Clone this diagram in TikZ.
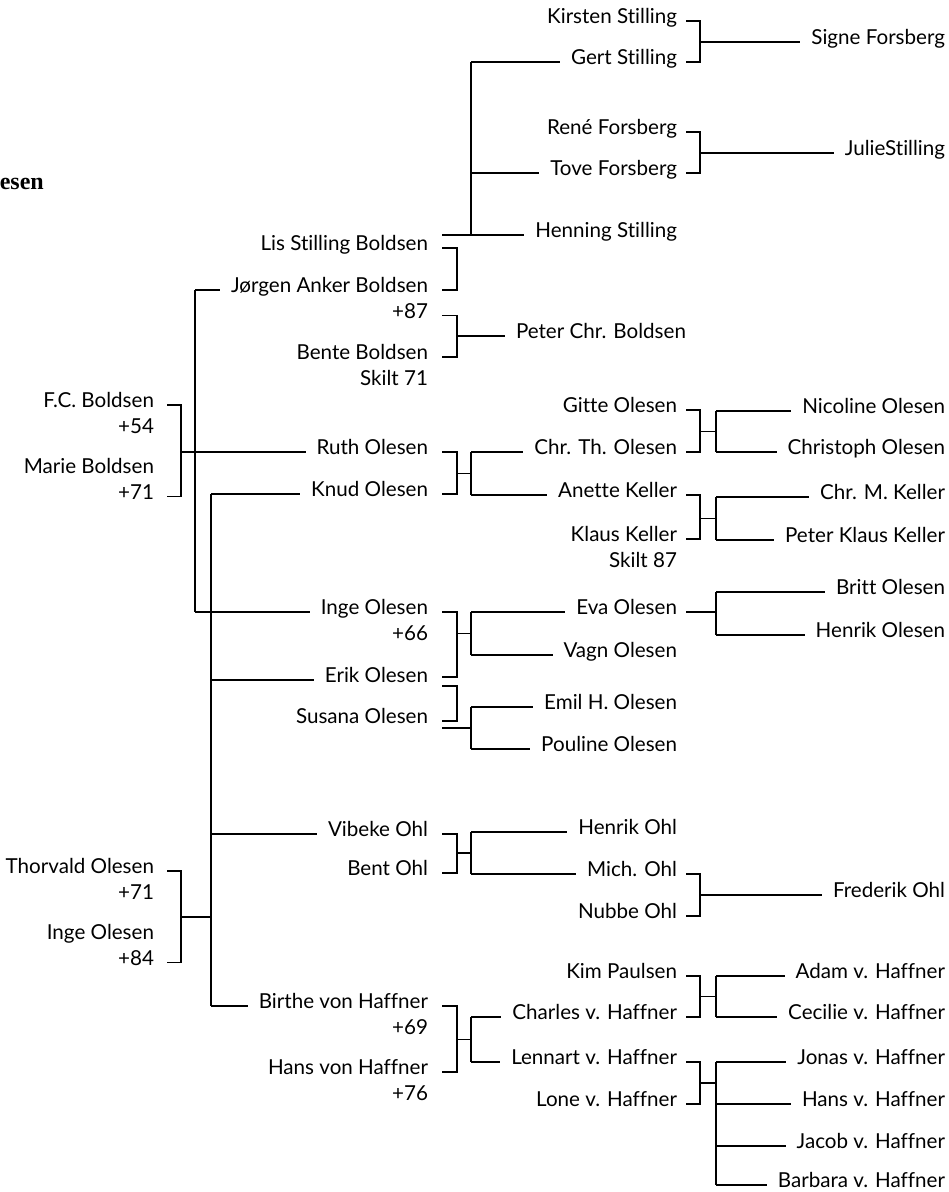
\documentclass[tikz,border=0pt]{standalone}
\usepackage{fontspec}
\setmainfont{Lato}[Ligatures=NoCommon]
\newfontfamily\headfont{Liberation Serif}
\usetikzlibrary{positioning, calc}

\begin{document}
\begin{tikzpicture}[x=1pt, y=-1pt, line cap=butt, line join=miter]

	%======================
	% COLUMNS (edit here)
	%======================
	\coordinate (g1s)  at (167,0);  % stub start, generation 1
	\coordinate (g1b)  at (181,0);  % bracket, generation 1
	\coordinate (bus1) at (195,0);  % Boldsen children
	\coordinate (bus2) at (211,0);  % Olesen children
	\coordinate (g2s)  at (442,0);
	\coordinate (g2b)  at (457,0);
	\coordinate (g2k)  at (471,0);
	\coordinate (g3s)  at (686,0);
	\coordinate (g3b)  at (700,0);
	\coordinate (g3k)  at (716,0);

	% Styles
	\tikzset{
		pers/.style={anchor=mid east, inner sep=0pt, outer sep=0pt, font=\fontsize{20.6}{25}\selectfont},
		info/.style={pers, below=25.5pt of #1.mid east, anchor=mid east},
		kin/.style={line width=1.5pt},
		kinto/.style={kin, shorten >=11pt}
	}

	\useasboundingbox (0,0) rectangle (949,1192);

	\node[font=\headfont\bfseries\fontsize{24}{28}\selectfont, anchor=base east, inner sep=0pt] (title) at (44,189) {esen};

	%======================
	% GENERATION 1
	%======================
	\node[pers] (fcb) at (154,405) {F.C. Boldsen};
	\node[info=fcb] (fcbd) {+54};
	\node[pers] (marie) at (154,471) {Marie Boldsen};
	\node[info=marie] (maried) {+71};

	\node[pers] (thorvald) at (154,871) {Thorvald Olesen};
	\node[info=thorvald] (thorvaldd) {+71};
	\node[pers] (ingeo) at (154,937) {Inge Olesen};
	\node[info=ingeo] (ingeod) {+84};

	%======================
	% GENERATION 2
	%======================
	\node[pers] (lis) at (428,248) {Lis Stilling Boldsen};
	\node[pers] (jorgen) at (428,290) {Jørgen Anker Boldsen};
	\node[info=jorgen] (jorgend) {+87};
	\node[pers] (bente) at (428,357) {Bente Boldsen};
	\node[info=bente] (bented) {Skilt 71};
	\node[pers] (ruth) at (428,452) {Ruth Olesen};
	\node[pers] (knud) at (428,494) {Knud Olesen};
	\node[pers] (inge) at (428,612) {Inge Olesen};
	\node[info=inge] (inged) {+66};
	\node[pers] (erik) at (428,680) {Erik Olesen};
	\node[pers] (susana) at (428,721) {Susana Olesen};
	\node[pers] (vibeke) at (428,834) {Vibeke Ohl};
	\node[pers] (bent) at (428,873) {Bent Ohl};
	\node[pers] (birthe) at (428,1006) {Birthe von Haffner};
	\node[info=birthe] (birthed) {+69};
	\node[pers] (hans) at (428,1072) {Hans von Haffner};
	\node[info=hans] (hansd) {+76};

	%======================
	% GENERATION 3
	%======================
	\node[pers] (kirsten) at (677,21) {Kirsten Stilling};
	\node[pers] (gert) at (677,62) {Gert Stilling};
	\node[pers] (rene) at (677,132) {René Forsberg};
	\node[pers] (tove) at (677,173) {Tove Forsberg};
	\node[pers] (henning) at (677,235) {Henning Stilling};
	\node[pers, anchor=mid west] (peter) at (516,336) {Peter Chr. Boldsen};
	\node[pers] (gitte) at (677,410) {Gitte Olesen};
	\node[pers] (chrth) at (677,452) {Chr. Th. Olesen};
	\node[pers] (anette) at (677,495) {Anette Keller};
	\node[pers] (klaus) at (677,539) {Klaus Keller};
	\node[info=klaus] (klausd) {Skilt 87};
	\node[pers] (eva) at (677,612) {Eva Olesen};
	\node[pers] (vagn) at (677,655) {Vagn Olesen};
	\node[pers] (emil) at (677,707) {Emil H. Olesen};
	\node[pers] (pouline) at (677,749) {Pouline Olesen};
	\node[pers] (henrikohl) at (677,832) {Henrik Ohl};
	\node[pers] (mich) at (677,874) {Mich. Ohl};
	\node[pers] (nubbe) at (677,916) {Nubbe Ohl};
	\node[pers] (kim) at (677,976) {Kim Paulsen};
	\node[pers] (charles) at (677,1017) {Charles v. Haffner};
	\node[pers] (lennart) at (677,1062) {Lennart v. Haffner};
	\node[pers] (lone) at (677,1104) {Lone v. Haffner};

	%======================
	% GENERATION 4
	%======================
	\node[pers] (signe) at (945,42) {Signe Forsberg};
	\node[pers] (julie) at (945,153) {JulieStilling};
	\node[pers] (nicoline) at (945,411) {Nicoline Olesen};
	\node[pers] (christoph) at (945,452) {Christoph Olesen};
	\node[pers] (chrm) at (945,497) {Chr. M. Keller};
	\node[pers] (peterk) at (945,540) {Peter Klaus Keller};
	\node[pers] (britt) at (945,592) {Britt Olesen};
	\node[pers] (henrikol) at (945,635) {Henrik Olesen};
	\node[pers] (frederik) at (945,895) {Frederik Ohl};
	\node[pers] (adam) at (945,976) {Adam v. Haffner};
	\node[pers] (cecilie) at (945,1017) {Cecilie v. Haffner};
	\node[pers] (jonas) at (945,1062) {Jonas v. Haffner};
	\node[pers] (hansv) at (945,1104) {Hans v. Haffner};
	\node[pers] (jacob) at (945,1146) {Jacob v. Haffner};
	\node[pers] (barbara) at (945,1185) {Barbara v. Haffner};

	%======================
	% BOLDSEN FAMILY
	%======================
	\draw[kin] (fcb.mid east -| g1s) -- (fcb.mid east -| g1b) -- (maried.mid east -| g1b) -- (maried.mid east -| g1s);
	\draw[kinto] (ruth.mid west -| g1b) -- (ruth.mid west);
	\draw[kin] (jorgen.mid west -| bus1) -- (inge.mid west -| bus1);
	\draw[kinto] (jorgen.mid west -| bus1) -- (jorgen.mid west);
	\draw[kinto] (inge.mid west -| bus1) -- (inge.mid west);

	% Lis + Jørgen, children Stilling (line starts above Lis)
	\draw[kin] (lis.mid east -| g2s) -- (lis.mid east -| g2b) -- (jorgen.mid east -| g2b) -- (jorgen.mid east -| g2s);
	\draw[kinto] (henning.mid west -| g2s) -- (henning.mid west);
	\draw[kin] (henning.mid west -| g2k) -- (gert.mid west -| g2k);
	\draw[kinto] (gert.mid west -| g2k) -- (gert.mid west);
	\draw[kinto] (tove.mid west -| g2k) -- (tove.mid west);

	% Jørgen + Bente
	\draw[kin] (jorgend.mid east -| g2s) -- (jorgend.mid east -| g2b) -- (bente.mid east -| g2b) -- (bente.mid east -| g2s);
	\draw[kinto] (peter.mid west -| g2b) -- (peter.mid west);

	% Kirsten + Gert, René + Tove
	\draw[kin] (kirsten.mid east -| g3s) -- (kirsten.mid east -| g3b) -- (gert.mid east -| g3b) -- (gert.mid east -| g3s);
	\draw[kinto] (signe.mid west -| g3b) -- (signe.mid west);
	\draw[kin] (rene.mid east -| g3s) -- (rene.mid east -| g3b) -- (tove.mid east -| g3b) -- (tove.mid east -| g3s);
	\draw[kinto] (julie.mid west -| g3b) -- (julie.mid west);

	%======================
	% OLESEN FAMILY
	%======================
	\draw[kin] (thorvald.mid east -| g1s) -- (thorvald.mid east -| g1b) -- (ingeod.mid east -| g1b) -- (ingeod.mid east -| g1s);
	\coordinate (olesenmid) at ($(thorvald.mid east -| g1b)!0.5!(ingeod.mid east -| g1b)$);
	\draw[kin] (olesenmid) -- (olesenmid -| bus2);
	\draw[kin] (knud.mid west -| bus2) -- (birthe.mid west -| bus2);
	\draw[kinto] (knud.mid west -| bus2) -- (knud.mid west);
	\draw[kinto] (erik.mid west -| bus2) -- (erik.mid west);
	\draw[kinto] (vibeke.mid west -| bus2) -- (vibeke.mid west);
	\draw[kinto] (birthe.mid west -| bus2) -- (birthe.mid west);

	% Ruth + Knud
	\draw[kin] (ruth.mid east -| g2s) -- (ruth.mid east -| g2b) -- (knud.mid east -| g2b) -- (knud.mid east -| g2s);
	\coordinate (rkmid) at ($(chrth.mid west)!0.5!(anette.mid west)$);
	\draw[kin] (rkmid -| g2b) -- (rkmid -| g2k);
	\draw[kin] (chrth.mid west -| g2k) -- (anette.mid west -| g2k);
	\draw[kinto] (chrth.mid west -| g2k) -- (chrth.mid west);
	\draw[kinto] (anette.mid west -| g2k) -- (anette.mid west);

	% Gitte + Chr. Th.
	\draw[kin] (gitte.mid east -| g3s) -- (gitte.mid east -| g3b) -- (chrth.mid east -| g3b) -- (chrth.mid east -| g3s);
	\coordinate (gcmid) at ($(nicoline.mid west)!0.5!(christoph.mid west)$);
	\draw[kin] (gcmid -| g3b) -- (gcmid -| g3k);
	\draw[kin] (nicoline.mid west -| g3k) -- (christoph.mid west -| g3k);
	\draw[kinto] (nicoline.mid west -| g3k) -- (nicoline.mid west);
	\draw[kinto] (christoph.mid west -| g3k) -- (christoph.mid west);

	% Anette + Klaus
	\draw[kin] (anette.mid east -| g3s) -- (anette.mid east -| g3b) -- (klaus.mid east -| g3b) -- (klaus.mid east -| g3s);
	\coordinate (akmid) at ($(chrm.mid west)!0.5!(peterk.mid west)$);
	\draw[kin] (akmid -| g3b) -- (akmid -| g3k);
	\draw[kin] (chrm.mid west -| g3k) -- (peterk.mid west -| g3k);
	\draw[kinto] (chrm.mid west -| g3k) -- (chrm.mid west);
	\draw[kinto] (peterk.mid west -| g3k) -- (peterk.mid west);

	% Inge + Erik
	\draw[kin] (inge.mid east -| g2s) -- (inge.mid east -| g2b) -- ([yshift=3pt]erik.mid east -| g2b) -- ([yshift=3pt]erik.mid east -| g2s);
	\coordinate (iemid) at ($(eva.mid west)!0.5!(vagn.mid west)$);
	\draw[kin] (iemid -| g2b) -- (iemid -| g2k);
	\draw[kin] (eva.mid west -| g2k) -- (vagn.mid west -| g2k);
	\draw[kinto] (eva.mid west -| g2k) -- (eva.mid west);
	\draw[kinto] (vagn.mid west -| g2k) -- (vagn.mid west);

	% Eva, children
	\draw[kin] (eva.mid east -| g3s) -- (eva.mid east -| g3k);
	\draw[kin] (britt.mid west -| g3k) -- (henrikol.mid west -| g3k);
	\draw[kinto] (britt.mid west -| g3k) -- (britt.mid west);
	\draw[kinto] (henrikol.mid west -| g3k) -- (henrikol.mid west);

	% Erik + Susana, children from Susana
	\draw[kin] ([yshift=-6pt]erik.mid east -| g2s) -- ([yshift=-6pt]erik.mid east -| g2b) -- (susana.mid east -| g2b) -- (susana.mid east -| g2s);
	\draw[kin] ([yshift=-7pt]susana.mid east -| g2s) -- ([yshift=-7pt]susana.mid east -| g2k);
	\draw[kin] (emil.mid west -| g2k) -- (pouline.mid west -| g2k);
	\draw[kinto] (emil.mid west -| g2k) -- (emil.mid west);
	\draw[kinto] (pouline.mid west -| g2k) -- (pouline.mid west);

	%======================
	% OHL FAMILY
	%======================
	\draw[kin] (vibeke.mid east -| g2s) -- (vibeke.mid east -| g2b) -- (bent.mid east -| g2b) -- (bent.mid east -| g2s);
	\coordinate (vbmid) at ($(henrikohl.mid west)!0.5!(mich.mid west)$);
	\draw[kin] (vbmid -| g2b) -- (vbmid -| g2k);
	\draw[kin] (henrikohl.mid west -| g2k) -- (mich.mid west -| g2k);
	\draw[kinto] (henrikohl.mid west -| g2k) -- (henrikohl.mid west);
	\draw[kinto] (mich.mid west -| g2k) -- (mich.mid west);

	% Mich + Nubbe
	\draw[kin] (mich.mid east -| g3s) -- (mich.mid east -| g3b) -- (nubbe.mid east -| g3b) -- (nubbe.mid east -| g3s);
	\draw[kinto] (frederik.mid west -| g3b) -- (frederik.mid west);

	%======================
	% VON HAFFNER FAMILY
	%======================
	\draw[kin] (birthe.mid east -| g2s) -- (birthe.mid east -| g2b) -- (hans.mid east -| g2b) -- (hans.mid east -| g2s);
	\coordinate (bhmid) at ($(charles.mid west)!0.5!(lennart.mid west)$);
	\draw[kin] (bhmid -| g2b) -- (bhmid -| g2k);
	\draw[kin] (charles.mid west -| g2k) -- (lennart.mid west -| g2k);
	\draw[kinto] (charles.mid west -| g2k) -- (charles.mid west);
	\draw[kinto] (lennart.mid west -| g2k) -- (lennart.mid west);

	% Kim + Charles
	\draw[kin] (kim.mid east -| g3s) -- (kim.mid east -| g3b) -- (charles.mid east -| g3b) -- (charles.mid east -| g3s);
	\coordinate (kcmid) at ($(adam.mid west)!0.5!(cecilie.mid west)$);
	\draw[kin] (kcmid -| g3b) -- (kcmid -| g3k);
	\draw[kin] (adam.mid west -| g3k) -- (cecilie.mid west -| g3k);
	\draw[kinto] (adam.mid west -| g3k) -- (adam.mid west);
	\draw[kinto] (cecilie.mid west -| g3k) -- (cecilie.mid west);

	% Lennart + Lone
	\draw[kin] (lennart.mid east -| g3s) -- (lennart.mid east -| g3b) -- (lone.mid east -| g3b) -- (lone.mid east -| g3s);
	\coordinate (llmid) at ($(lennart.mid east -| g3b)!0.5!(lone.mid east -| g3b)$);
	\draw[kin] (llmid) -- (llmid -| g3k);
	\draw[kin] (jonas.mid west -| g3k) -- (barbara.mid west -| g3k);
	\draw[kinto] (jonas.mid west -| g3k) -- (jonas.mid west);
	\draw[kinto] (hansv.mid west -| g3k) -- (hansv.mid west);
	\draw[kinto] (jacob.mid west -| g3k) -- (jacob.mid west);
	\draw[kinto] (barbara.mid west -| g3k) -- (barbara.mid west);
\end{tikzpicture}
\end{document}
